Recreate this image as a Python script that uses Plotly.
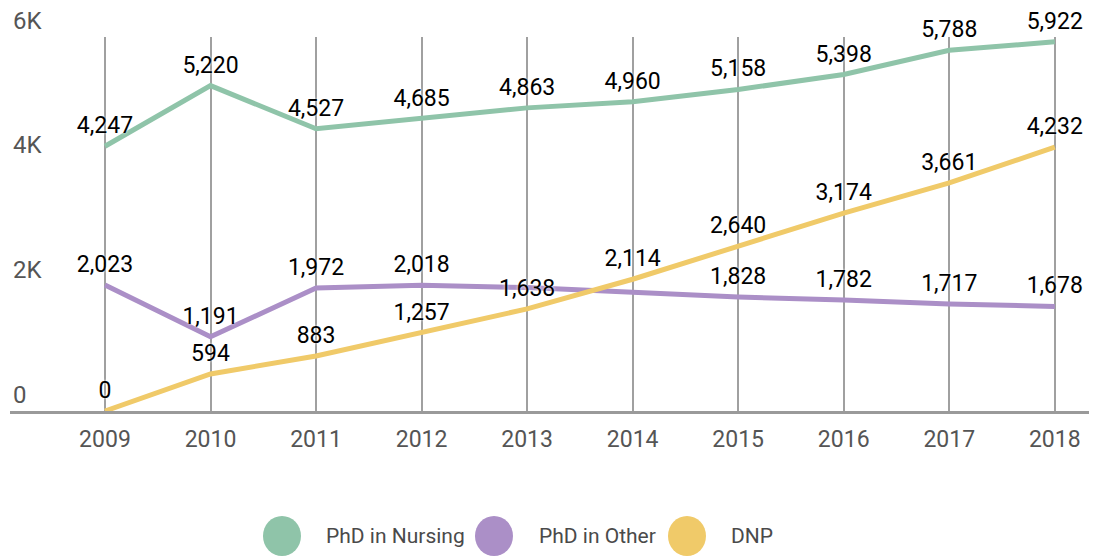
import plotly.graph_objects as go

years = [2009, 2010, 2011, 2012, 2013, 2014, 2015, 2016, 2017, 2018]
phd_nursing = [4247, 5220, 4527, 4685, 4863, 4960, 5158, 5398, 5788, 5922]
phd_other = [2023, 1191, 1972, 2018, 1980, 1900, 1828, 1782, 1717, 1678]
dnp = [0, 594, 883, 1257, 1638, 2114, 2640, 3174, 3661, 4232]
# labels hidden in the original because of overlaps
other_label_shown = [True, True, True, True, False, False, True, True, True, True]

series_names = ["PhD in Nursing", "PhD in Other", "DNP"]
colors = ["#8FC4A9", "#AB8FC7", "#F0CA69"]
y_tickvals = [0, 2000, 4000, 6000]
y_ticktext = ["0", "2K", "4K", "6K"]

FONT = "Roboto"

def fmt(v):
    return f"{v:,}"

fig = go.Figure()
series = [
    (phd_nursing, [True] * len(years)),
    (phd_other, other_label_shown),
    (dnp, [True] * len(years)),
]
for (vals, shown), name, col in zip(series, series_names, colors):
    fig.add_trace(go.Scatter(
        x=years, y=vals, name=name,
        mode="lines+markers+text",
        line=dict(color=col, width=5),
        marker=dict(size=10, color=col, opacity=0),
        text=[fmt(v) if s else "" for v, s in zip(vals, shown)],
        textposition="top center",
        textfont=dict(family=FONT, size=23, color="#000000", shadow="0px 0px 3px white"),
        cliponaxis=False,
        showlegend=False,
        hoverinfo="x+y+name",
    ))

# page body has an 8px margin, so the figure is shifted by 8px
fig.update_layout(
    width=1089, height=549,
    margin=dict(l=2, r=0, t=29, b=146),
    paper_bgcolor="white", plot_bgcolor="white",
    font=dict(family=FONT, size=23, color="#555555"),
    showlegend=False,
    xaxis=dict(
        range=[2008.1, 2018.4],
        tickvals=years,
        ticktext=[str(y) for y in years],
        showgrid=True, gridcolor="#A0A0A0", gridwidth=2,
        showline=True, linecolor="#9A9A9A", linewidth=2.5,
        zeroline=False, ticks="",
        ticklabelstandoff=6,
        tickfont=dict(family=FONT, size=23, color="#555555"),
    ),
    yaxis=dict(
        range=[0, 6000],
        tickvals=y_tickvals, ticktext=y_ticktext,
        showgrid=False, zeroline=False, showline=False, ticks="",
        ticklabelposition="inside top",
        ticklabeloverflow="allow",
        tickfont=dict(family=FONT, size=24, color="#555555"),
    ),
)

# manual legend with large circular swatches (positions in reference pixels)
plot_left, plot_w = 10, 1087
plot_bottom, plot_h = 411, 374
def px_to_paper_x(px):
    return (px - plot_left) / plot_w
def px_to_paper_y(py):
    return (plot_bottom - py) / plot_h

legend_circle_x = [282, 494, 687]
legend_text_x = [324, 537, 729]
legend_y = 536
for name, col, cx, tx in zip(series_names, colors, legend_circle_x, legend_text_x):
    fig.add_shape(
        type="circle", xref="paper", yref="paper",
        xsizemode="pixel", ysizemode="pixel",
        xanchor=px_to_paper_x(cx), yanchor=px_to_paper_y(legend_y),
        x0=-19, x1=19, y0=-20, y1=20,
        fillcolor=col, line=dict(width=0),
    )
    fig.add_annotation(
        x=px_to_paper_x(tx), y=px_to_paper_y(legend_y),
        xref="paper", yref="paper", xanchor="left", yanchor="middle",
        text=name, showarrow=False,
        font=dict(family=FONT, size=21, color="#4A4A4A"),
    )

fig.write_html("out.html")
